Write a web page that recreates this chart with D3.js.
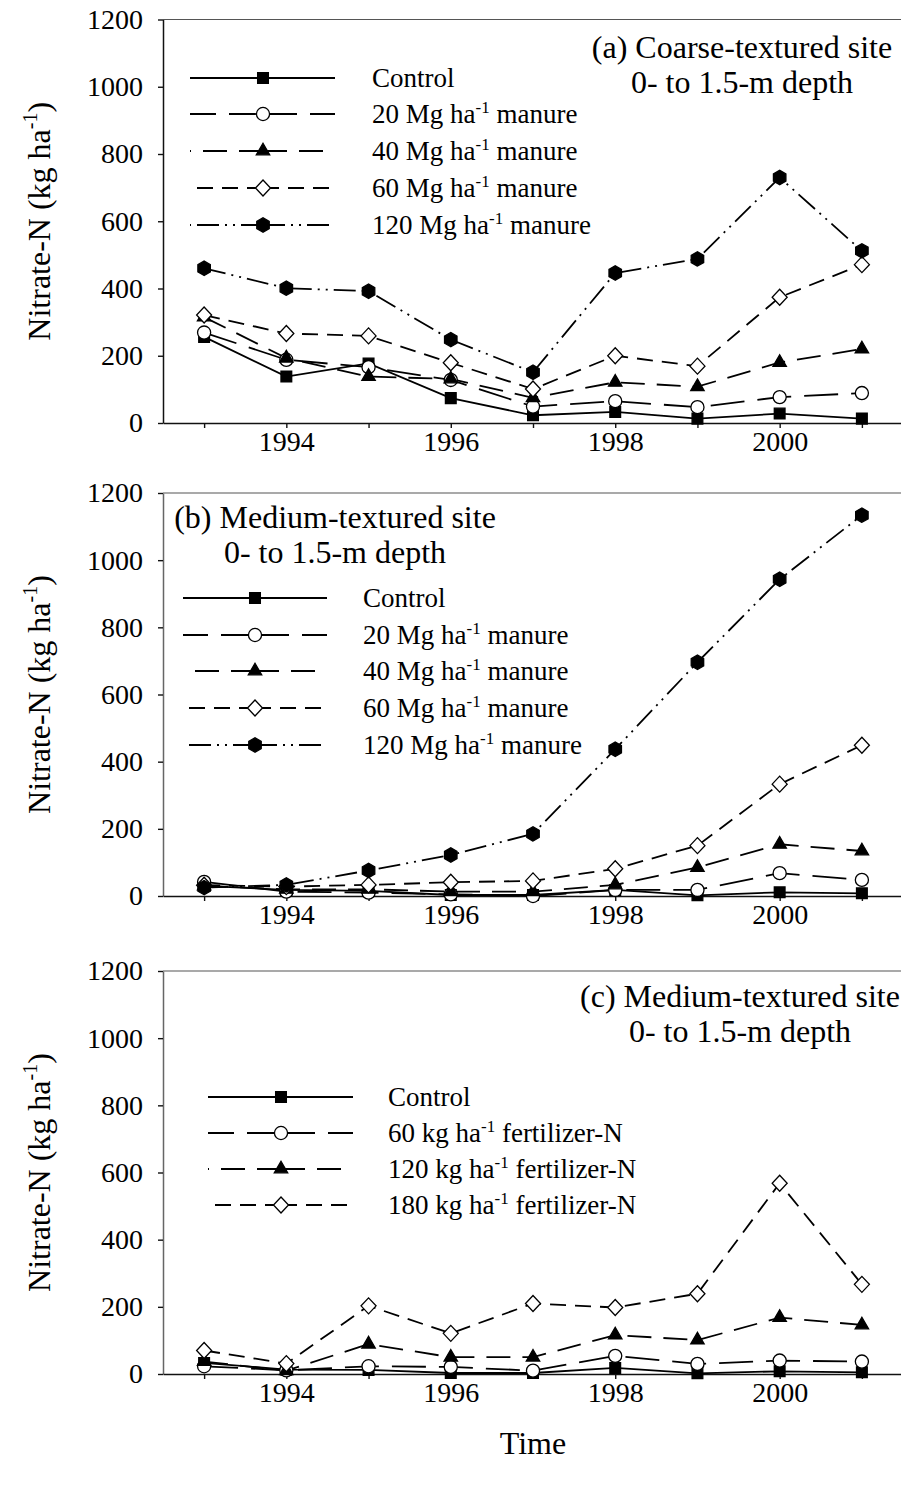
<!DOCTYPE html>
<html>
<head>
<meta charset="utf-8">
<script src="https://cdn.jsdelivr.net/npm/d3@7"></script>
<style>
  body { margin: 0; background: #fff; }
  svg text { font-family: "Liberation Serif", "Times New Roman", serif; fill: #000; }
</style>
</head>
<body>
<svg id="chart" width="901" height="1488"></svg>
<script>
// Sampling years and axis ticks
const years = [1993, 1994, 1995, 1996, 1997, 1998, 1999, 2000, 2001];
const xTickLabels = [1994, 1996, 1998, 2000];
const yTicks = [0, 200, 400, 600, 800, 1000, 1200];

// Application rates shown in the legends
const manureRates = [20, 40, 60, 120];
const fertilizerRates = [60, 120, 180];

// (a) Coarse-textured site, nitrate-N (kg/ha), 0-1.5 m
const coarseControl = [256, 138, 177, 74, 23, 33, 13, 28, 13];
const coarseManure20 = [269, 188, 166, 128, 49, 65, 47, 77, 89];
const coarseManure40 = [315, 193, 138, 131, 75, 121, 108, 180, 220];
const coarseManure60 = [321, 266, 259, 179, 101, 200, 169, 374, 471];
const coarseManure120 = [460, 401, 392, 248, 151, 446, 488, 730, 512];

// (b) Medium-textured site, manure treatments
const mediumControl = [30, 18, 15, 3, 3, 18, 2, 11, 8];
const mediumManure20 = [42, 13, 10, 5, 0, 18, 18, 68, 48];
const mediumManure40 = [30, 20, 20, 13, 13, 33, 85, 154, 134];
const mediumManure60 = [32, 28, 33, 41, 45, 81, 150, 333, 449];
const mediumManure120 = [25, 33, 76, 122, 185, 437, 696, 943, 1134];

// (c) Medium-textured site, fertilizer treatments
const fertControl = [33, 13, 12, 3, 3, 18, 2, 8, 5];
const fert60 = [23, 11, 23, 21, 10, 54, 30, 40, 37];
const fert120 = [37, 10, 89, 50, 50, 116, 101, 168, 146];
const fert180 = [70, 31, 203, 121, 210, 198, 239, 568, 267];

const svg = d3.select("#chart");
const FONT = '"Liberation Serif", "Times New Roman", serif';
const AX = 163;
const x = d3.scaleLinear().domain([1992.5, 2001.5]).range([AX, 903]);

// Line/marker styles for each treatment level
const styleList = [
  { dash: null, shape: "square", fill: "#000" },
  { dash: "34,13", shape: "circle", fill: "#fff" },
  { dash: "24,12", shape: "triangle", fill: "#000" },
  { dash: "16,9", shape: "diamond", fill: "#fff" },
  { dash: "22,6,2,6,2,6", shape: "hexagon", fill: "#000" }
];

function markerPath(shape) {
  if (shape === "hexagon") {
    const r = 7.2;
    const pts = d3.range(6).map(i => {
      const a = Math.PI / 2 + i * Math.PI / 3;
      return [r * Math.cos(a), r * Math.sin(a)];
    });
    return "M" + pts.join("L") + "Z";
  }
  if (shape === "diamond") {
    return "M0,-8L7.5,0L0,8L-7.5,0Z";
  }
  const typ = { square: d3.symbolSquare, circle: d3.symbolCircle, triangle: d3.symbolTriangle }[shape];
  const size = { square: 115, circle: 135, triangle: 78 }[shape];
  return d3.symbol(typ, size)();
}

function drawMarker(g, st, cx, cy) {
  g.append("path")
    .attr("d", markerPath(st.shape))
    .attr("transform", `translate(${cx},${cy})`)
    .attr("fill", st.fill)
    .attr("stroke", "#000")
    .attr("stroke-width", 1.3);
}

// text with a "-1" superscript after the unit prefix
function supText(sel, before, after, supSize, rise) {
  sel.append("tspan").text(before);
  sel.append("tspan").attr("font-size", supSize).attr("dy", -rise).text("-1");
  sel.append("tspan").attr("dy", rise).text(after);
}

function drawPanel(p) {
  const y = d3.scaleLinear().domain([0, 1200]).range([p.bottom, p.top]);
  const g = svg.append("g");

  // thin frame line along the top of the plot
  g.append("line")
    .attr("x1", AX).attr("x2", 903)
    .attr("y1", p.top).attr("y2", p.top)
    .attr("stroke", "#555").attr("stroke-width", 1.2);

  const yAxis = d3.axisLeft(y).tickValues(yTicks).tickSize(5).tickSizeOuter(0).tickPadding(15)
    .tickFormat(d3.format("d"));
  const gy = g.append("g").attr("transform", `translate(${AX},0)`).call(yAxis);
  const xAxis = d3.axisBottom(x).tickValues(years).tickSize(5).tickSizeOuter(0).tickPadding(3)
    .tickFormat(d => xTickLabels.includes(d) ? String(d) : "");
  const gx = g.append("g").attr("transform", `translate(0,${p.bottom})`).call(xAxis);
  [gx, gy].forEach(a => {
    a.attr("font-family", FONT).attr("font-size", 28);
    a.selectAll("line").attr("stroke", "#111").attr("stroke-width", 1.4);
    a.selectAll("text").attr("fill", "#000");
  });
  gx.select(".domain").attr("stroke", "#111").attr("stroke-width", 1.5);
  gy.select(".domain").attr("stroke", p.yAxisColor).attr("stroke-width", 1.5);

  // y-axis title
  const yt = g.append("text")
    .attr("transform", `translate(50,${(p.top + p.bottom) / 2}) rotate(-90)`)
    .attr("text-anchor", "middle")
    .attr("font-size", 32);
  supText(yt, "Nitrate-N (kg ha", ")", 20, 13);

  // series lines, then markers on top
  const line = d3.line().x((d, i) => x(years[i])).y(d => y(d));
  p.series.forEach(s => {
    const st = styleList[s.style];
    g.append("path")
      .attr("d", line(s.values))
      .attr("fill", "none")
      .attr("stroke", "#000")
      .attr("stroke-width", 1.8)
      .attr("stroke-dasharray", st.dash);
  });
  p.series.forEach(s => {
    const st = styleList[s.style];
    s.values.forEach((v, i) => drawMarker(g, st, x(years[i]), y(v)));
  });

  // panel title (two centred lines)
  p.title.forEach((t, i) => {
    g.append("text")
      .attr("x", p.titleX).attr("y", p.titleY + i * 35)
      .attr("text-anchor", "middle")
      .attr("font-size", 32)
      .text(t);
  });

  // legend
  const L = p.legend;
  p.series.forEach((s, i) => {
    const st = styleList[s.style];
    const ly = L.rows[i];
    [L.x1, L.x2].forEach(end => {
      g.append("line")
        .attr("x1", L.mx).attr("x2", end).attr("y1", ly).attr("y2", ly)
        .attr("stroke", "#000").attr("stroke-width", 1.8)
        .attr("stroke-dasharray", st.dash);
    });
    drawMarker(g, st, L.mx, ly);
    const t = g.append("text").attr("x", L.tx).attr("y", ly + 9).attr("font-size", 27);
    if (s.rate == null) t.text("Control");
    else supText(t, `${s.rate} ${s.unit} ha`, ` ${s.kind}`, 17, 10);
  });
}

drawPanel({
  top: 19.5, bottom: 423, yAxisColor: "#111",
  title: ["(a) Coarse-textured site", "0- to 1.5-m depth"], titleX: 742, titleY: 58,
  legend: { x1: 190, x2: 335, mx: 263, tx: 372, rows: [78, 114, 151, 188, 225] },
  series: [
    { style: 0, values: coarseControl, rate: null },
    { style: 1, values: coarseManure20, rate: manureRates[0], unit: "Mg", kind: "manure" },
    { style: 2, values: coarseManure40, rate: manureRates[1], unit: "Mg", kind: "manure" },
    { style: 3, values: coarseManure60, rate: manureRates[2], unit: "Mg", kind: "manure" },
    { style: 4, values: coarseManure120, rate: manureRates[3], unit: "Mg", kind: "manure" }
  ]
});

drawPanel({
  top: 493, bottom: 896, yAxisColor: "#666",
  title: ["(b) Medium-textured site", "0- to 1.5-m depth"], titleX: 335, titleY: 528,
  legend: { x1: 183, x2: 327, mx: 255, tx: 363, rows: [598, 635, 671, 708, 745] },
  series: [
    { style: 0, values: mediumControl, rate: null },
    { style: 1, values: mediumManure20, rate: manureRates[0], unit: "Mg", kind: "manure" },
    { style: 2, values: mediumManure40, rate: manureRates[1], unit: "Mg", kind: "manure" },
    { style: 3, values: mediumManure60, rate: manureRates[2], unit: "Mg", kind: "manure" },
    { style: 4, values: mediumManure120, rate: manureRates[3], unit: "Mg", kind: "manure" }
  ]
});

drawPanel({
  top: 971, bottom: 1374, yAxisColor: "#666",
  title: ["(c) Medium-textured site", "0- to 1.5-m depth"], titleX: 740, titleY: 1007,
  legend: { x1: 208, x2: 353, mx: 281, tx: 388, rows: [1097, 1133, 1169, 1205] },
  series: [
    { style: 0, values: fertControl, rate: null },
    { style: 1, values: fert60, rate: fertilizerRates[0], unit: "kg", kind: "fertilizer-N" },
    { style: 2, values: fert120, rate: fertilizerRates[1], unit: "kg", kind: "fertilizer-N" },
    { style: 3, values: fert180, rate: fertilizerRates[2], unit: "kg", kind: "fertilizer-N" }
  ]
});

// shared x-axis title
svg.append("text")
  .attr("x", 533).attr("y", 1454)
  .attr("text-anchor", "middle")
  .attr("font-size", 32)
  .text("Time");
</script>
</body>
</html>
